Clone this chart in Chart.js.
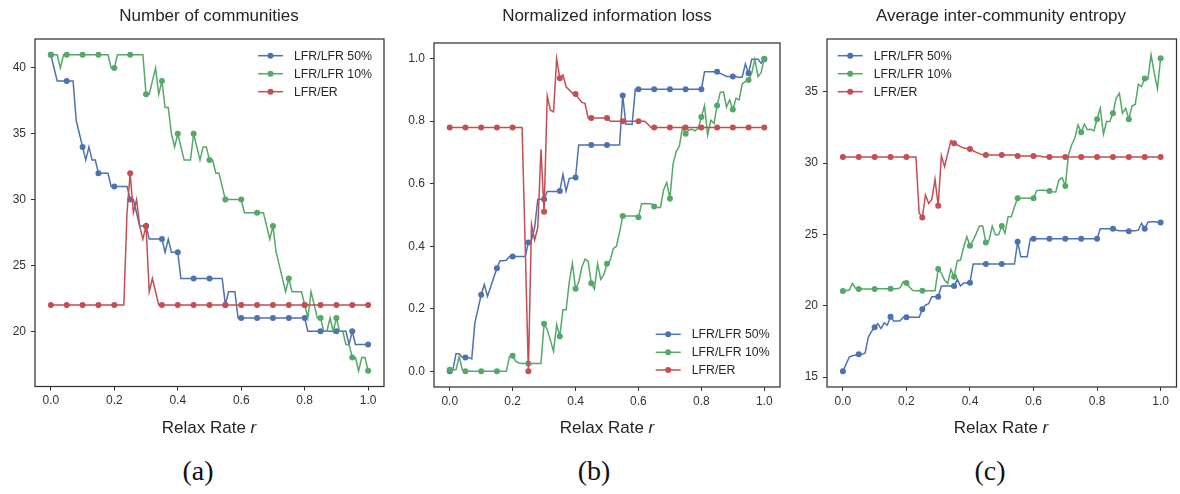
<!DOCTYPE html>
<html>
<head>
<meta charset="utf-8">
<script src="https://cdn.jsdelivr.net/npm/chart.js@4.4.0/dist/chart.umd.min.js"></script>
<style>
  body { margin: 0; background: #fff; width: 1180px; height: 494px; position: relative; overflow: hidden;
         font-family: "Liberation Sans", Arial, sans-serif; color: #262626; }
  canvas { position: absolute; top: 0; }
  .ttl { position: absolute; top: 6px; line-height: 20px; font-size: 17px; transform: translateX(-50%); white-space: nowrap; }
  .xl { position: absolute; top: 418px; line-height: 20px; font-size: 17px; transform: translateX(-50%); white-space: nowrap; }
  .cap { position: absolute; top: 454px; line-height: 34px; font-size: 28px; font-family: "Liberation Serif", serif;
         transform: translateX(-50%); white-space: nowrap; color: #111; }
</style>
</head>
<body>
<canvas id="chartA" width="392" height="445" style="left:0px"></canvas>
<canvas id="chartB" width="388" height="445" style="left:400px"></canvas>
<canvas id="chartC" width="390" height="445" style="left:790px"></canvas>

<div class="ttl" style="left:209px">Number of communities</div>
<div class="ttl" style="left:607px">Normalized information loss</div>
<div class="ttl" style="left:1001px">Average inter-community entropy</div>
<div class="xl" style="left:209px">Relax Rate <i>r</i></div>
<div class="xl" style="left:607px">Relax Rate <i>r</i></div>
<div class="xl" style="left:1001px">Relax Rate <i>r</i></div>
<div class="cap" style="left:198px">(a)</div>
<div class="cap" style="left:594px">(b)</div>
<div class="cap" style="left:990px">(c)</div>

<script>
// relax rate r, sampled every 0.01
const relaxRate = Array.from({ length: 101 }, (_, i) => i / 100);
const seriesNames = ['LFR/LFR 50%', 'LFR/LFR 10%', 'LFR/ER'];
const xTicks = [0, 0.2, 0.4, 0.6, 0.8, 1.0];

// (a) number of communities
const communities50 = [
  41, 40, 39, 39, 39, 39, 39, 39, 36, 35,
  34, 33, 34, 33, 33, 32, 32, 32, 32, 31,
  31, 31, 31, 31, 31, 30, 30, 29, 28, 28,
  28, 27, 27, 27, 27, 27, 26, 27, 26, 26,
  26, 24, 24, 24, 24, 24, 24, 24, 24, 24,
  24, 24, 24, 24, 24, 22, 23, 23, 23, 21,
  21, 21, 21, 21, 21, 21, 21, 21, 21, 21,
  21, 21, 21, 21, 21, 21, 21, 21, 21, 21,
  21, 20, 20, 20, 20, 20, 20, 20, 20, 20,
  20, 20, 20, 20, 19, 20, 19, 19, 19, 19,
  19];
const communities10 = [
  41, 41, 41, 40, 41, 41, 41, 41, 41, 41,
  41, 41, 41, 41, 41, 41, 41, 41, 41, 40,
  40, 41, 41, 41, 41, 41, 41, 41, 41, 41,
  38, 38, 39, 40, 38, 39, 37, 37, 35, 34,
  35, 34, 33, 33, 33, 35, 34, 33, 34, 34,
  33, 33, 32, 32, 31, 30, 30, 30, 30, 30,
  30, 29, 29, 29, 29, 29, 29, 29, 28, 27,
  28, 26, 25, 24, 23, 24, 23, 23, 23, 23,
  22, 21, 23, 22, 21, 21, 20, 20, 21, 20,
  21, 20, 20, 19, 19, 18, 18, 17, 18, 18,
  17];
const communitiesER = [
  22, 22, 22, 22, 22, 22, 22, 22, 22, 22,
  22, 22, 22, 22, 22, 22, 22, 22, 22, 22,
  22, 22, 22, 22, 29, 32, 29, 30, 28, 27,
  28, 23, 24, 23, 22, 22, 22, 22, 22, 22,
  22, 22, 22, 22, 22, 22, 22, 22, 22, 22,
  22, 22, 22, 22, 22, 22, 22, 22, 22, 22,
  22, 22, 22, 22, 22, 22, 22, 22, 22, 22,
  22, 22, 22, 22, 22, 22, 22, 22, 22, 22,
  22, 22, 22, 22, 22, 22, 22, 22, 22, 22,
  22, 22, 22, 22, 22, 22, 22, 22, 22, 22,
  22];
const communitiesTicks = [20, 25, 30, 35, 40];

// (b) normalized information loss
const infoLoss50 = [
  0.0, 0.005, 0.056, 0.056, 0.045, 0.044, 0.044, 0.04, 0.155, 0.2,
  0.245, 0.278, 0.24, 0.27, 0.3, 0.33, 0.354, 0.354, 0.355, 0.367,
  0.367, 0.367, 0.367, 0.367, 0.367, 0.412, 0.42, 0.46, 0.55, 0.55,
  0.55, 0.575, 0.575, 0.575, 0.575, 0.577, 0.63, 0.577, 0.617, 0.618,
  0.62, 0.724, 0.724, 0.724, 0.724, 0.724, 0.724, 0.724, 0.724, 0.724,
  0.724, 0.724, 0.724, 0.724, 0.724, 0.882, 0.79, 0.79, 0.79, 0.902,
  0.902, 0.902, 0.902, 0.902, 0.902, 0.902, 0.902, 0.902, 0.902, 0.902,
  0.902, 0.902, 0.902, 0.902, 0.902, 0.902, 0.902, 0.902, 0.902, 0.902,
  0.902, 0.958, 0.958, 0.958, 0.958, 0.958, 0.953, 0.948, 0.943, 0.943,
  0.943, 0.943, 0.94, 0.942, 0.983, 0.953, 0.998, 0.998, 0.998, 0.985,
  0.998];
const infoLoss10 = [
  0.005, 0.005, 0.005, 0.048, 0.005, 0.0, 0.0, 0.0, 0.0, 0.0,
  0.0, 0.0, 0.0, 0.0, 0.0, 0.0, 0.0, 0.0, 0.0, 0.048,
  0.05, 0.032, 0.027, 0.025, 0.025, 0.025, 0.025, 0.025, 0.025, 0.025,
  0.152, 0.133, 0.1, 0.064, 0.15, 0.112, 0.197, 0.197, 0.285, 0.346,
  0.264, 0.285, 0.333, 0.359, 0.352, 0.282, 0.263, 0.344, 0.294, 0.309,
  0.344, 0.355, 0.392, 0.4, 0.445, 0.497, 0.497, 0.497, 0.497, 0.497,
  0.493, 0.536, 0.537, 0.536, 0.536, 0.527, 0.524, 0.524, 0.58, 0.604,
  0.553, 0.663, 0.703, 0.72, 0.78, 0.76, 0.772, 0.774, 0.769, 0.777,
  0.813, 0.85, 0.756, 0.803, 0.793, 0.85, 0.892, 0.894, 0.846, 0.868,
  0.837, 0.873, 0.868, 0.919, 0.927, 0.932, 0.953, 0.998, 0.943, 0.955,
  1.0];
const infoLossER = [
  0.78, 0.78, 0.78, 0.78, 0.78, 0.78, 0.78, 0.78, 0.78, 0.78,
  0.78, 0.78, 0.78, 0.78, 0.78, 0.78, 0.78, 0.78, 0.78, 0.78,
  0.78, 0.78, 0.78, 0.78, 0.4, 0.0, 0.47, 0.42, 0.46, 0.71,
  0.51, 0.88, 0.835, 0.83, 1.0, 0.937, 0.948, 0.91, 0.9, 0.89,
  0.887, 0.873, 0.86, 0.857, 0.81, 0.81, 0.81, 0.81, 0.81, 0.81,
  0.81, 0.8, 0.8, 0.8, 0.8, 0.8, 0.8, 0.8, 0.8, 0.8,
  0.8, 0.8, 0.8, 0.79, 0.78, 0.78, 0.78, 0.78, 0.78, 0.78,
  0.78, 0.78, 0.78, 0.78, 0.78, 0.78, 0.78, 0.78, 0.78, 0.78,
  0.78, 0.78, 0.78, 0.78, 0.78, 0.78, 0.78, 0.78, 0.78, 0.78,
  0.78, 0.78, 0.78, 0.78, 0.78, 0.78, 0.78, 0.78, 0.78, 0.78,
  0.78];
const infoLossTicks = [0.0, 0.2, 0.4, 0.6, 0.8, 1.0];

// (c) average inter-community entropy
const entropy50 = [
  15.42, 15.9, 16.4, 16.5, 16.55, 16.6, 16.6, 16.7, 17.8, 18.2,
  18.5, 18.75, 18.4, 18.8, 18.65, 19.23, 18.93, 18.93, 18.95, 19.2,
  19.2, 19.2, 19.2, 19.2, 19.2, 19.75, 20.05, 20.15, 20.63, 20.63,
  20.63, 21.38, 21.38, 21.38, 21.38, 21.38, 21.85, 21.38, 21.6, 21.6,
  21.62, 22.92, 22.92, 22.92, 22.92, 22.92, 22.92, 22.92, 22.92, 22.92,
  22.92, 22.92, 22.92, 22.92, 22.92, 24.49, 23.44, 23.44, 23.44, 24.7,
  24.7, 24.7, 24.7, 24.7, 24.7, 24.7, 24.7, 24.7, 24.7, 24.7,
  24.7, 24.7, 24.7, 24.7, 24.7, 24.7, 24.7, 24.7, 24.7, 24.7,
  24.7, 25.4, 25.4, 25.4, 25.4, 25.4, 25.31, 25.26, 25.26, 25.26,
  25.22, 25.26, 25.26, 25.3, 25.78, 25.4, 25.86, 25.88, 25.88, 25.85,
  25.83];
const entropy10 = [
  21.03, 21.05, 21.1, 21.57, 21.22, 21.17, 21.17, 21.17, 21.17, 21.17,
  21.17, 21.19, 21.19, 21.19, 21.19, 21.19, 21.2, 21.2, 21.25, 21.68,
  21.6, 21.3, 21.07, 21.05, 21.05, 21.05, 21.05, 21.05, 21.05, 21.05,
  22.57, 22.27, 21.8, 21.57, 22.55, 22.03, 23.16, 23.2, 24.1, 24.84,
  24.2, 24.6, 25.07, 25.59, 25.59, 24.44, 24.6, 25.57, 24.98, 24.98,
  25.59, 25.08, 26.24, 26.24, 26.94, 27.53, 27.53, 27.53, 27.53, 27.53,
  27.53, 28.07, 28.1, 28.1, 28.07, 28.05, 27.98, 27.97, 28.81, 28.97,
  28.39, 30.57, 31.27, 31.74, 32.67, 32.16, 32.72, 32.33, 32.37, 32.25,
  33.07, 33.84, 32.02, 32.91, 32.91, 33.49, 34.54, 34.89, 33.49, 33.84,
  33.07, 34.0, 34.1, 35.51, 35.35, 35.92, 35.88, 37.58, 36.3, 35.2,
  37.35];
const entropyER = [
  30.43, 30.43, 30.43, 30.43, 30.43, 30.43, 30.43, 30.43, 30.43, 30.43,
  30.43, 30.43, 30.43, 30.43, 30.43, 30.43, 30.43, 30.43, 30.43, 30.43,
  30.43, 30.43, 30.43, 30.43, 26.5, 26.18, 27.76, 27.17, 27.45, 28.86,
  27.01, 30.52, 29.75, 30.68, 31.57, 31.38, 31.27, 31.15, 31.05, 31.02,
  30.98, 30.86, 30.75, 30.66, 30.58, 30.57, 30.57, 30.57, 30.57, 30.57,
  30.57, 30.57, 30.57, 30.57, 30.57, 30.5, 30.5, 30.5, 30.5, 30.5,
  30.5, 30.5, 30.5, 30.43, 30.43, 30.43, 30.43, 30.43, 30.43, 30.43,
  30.43, 30.43, 30.43, 30.43, 30.43, 30.43, 30.43, 30.43, 30.43, 30.43,
  30.43, 30.43, 30.43, 30.43, 30.43, 30.43, 30.43, 30.43, 30.43, 30.43,
  30.43, 30.43, 30.43, 30.43, 30.43, 30.43, 30.43, 30.43, 30.43, 30.43,
  30.43];
const entropyTicks = [15, 20, 25, 30, 35];

const colors = ['#4C72B0', '#55A868', '#C44E52'];
const FONT = '"Liberation Sans", Arial, sans-serif';

// frame round the plot area (all four spines)
const framePlugin = {
  id: 'frame',
  afterDraw(chart) {
    const a = chart.chartArea, c = chart.ctx;
    c.save();
    c.strokeStyle = '#333';
    c.lineWidth = 1.25;
    c.strokeRect(a.left, a.top, a.right - a.left, a.bottom - a.top);
    c.restore();
  }
};

// legend drawn inside the axes
const boxLegend = {
  id: 'boxLegend',
  afterDraw(chart, args, opts) {
    const c = chart.ctx;
    c.save();
    chart.data.datasets.forEach((ds, i) => {
      const y = opts.rows[i];
      c.strokeStyle = ds.borderColor;
      c.lineWidth = 1.5;
      c.beginPath();
      c.moveTo(opts.x0, y);
      c.lineTo(opts.x0 + 25, y);
      c.stroke();
      c.fillStyle = ds.borderColor;
      c.beginPath();
      c.arc(opts.x0 + 12.5, y, 3, 0, Math.PI * 2);
      c.fill();
      c.fillStyle = '#262626';
      c.font = '12.3px ' + FONT;
      c.textBaseline = 'middle';
      c.fillText(ds.label, opts.x0 + 36, y + 0.5);
    });
    c.restore();
  }
};

function makePanel(id, canvasLeft, canvasWidth, box, yMin, yMax, yTicks, yFmt, values, legend) {
  const datasets = values.map((vals, i) => ({
    label: seriesNames[i],
    data: relaxRate.map((r, j) => ({ x: r, y: vals[j] })),
    borderColor: colors[i],
    backgroundColor: colors[i],
    borderWidth: 1.5,
    tension: 0,
    pointRadius: ctx => (ctx.dataIndex % 5 === 0 ? 3 : 0),
    pointBorderWidth: 0,
    pointHoverRadius: 0,
    order: 2 - i
  }));
  const tickFont = { family: FONT, size: 12 };
  return new Chart(document.getElementById(id), {
    type: 'line',
    data: { datasets },
    options: {
      responsive: false,
      animation: false,
      events: [],
      devicePixelRatio: 1,
      layout: { padding: { left: 0, top: box.top, right: canvasWidth - (box.right - canvasLeft), bottom: 0 } },
      plugins: { legend: { display: false }, tooltip: { enabled: false }, boxLegend: legend },
      scales: {
        x: {
          type: 'linear', min: -0.05, max: 1.05,
          afterBuildTicks: s => { s.ticks = xTicks.map(v => ({ value: v })); },
          afterFit: s => { s.height = 445 - box.bottom; },
          ticks: { callback: v => v.toFixed(1), font: tickFont, color: '#333', padding: 3, maxRotation: 0, autoSkip: false },
          grid: { drawOnChartArea: false, drawTicks: true, tickLength: 4, tickColor: '#333' },
          border: { display: false }
        },
        y: {
          min: yMin, max: yMax,
          afterBuildTicks: s => { s.ticks = yTicks.map(v => ({ value: v })); },
          afterFit: s => { s.width = box.left - canvasLeft; },
          ticks: { callback: yFmt, font: tickFont, color: '#333', padding: 5, autoSkip: false },
          grid: { drawOnChartArea: false, drawTicks: true, tickLength: 4, tickColor: '#333' },
          border: { display: false }
        }
      }
    },
    plugins: [framePlugin, boxLegend]
  });
}

makePanel('chartA', 0, 392, { left: 35, right: 384, top: 39, bottom: 386.5 },
  15.8, 42.2, communitiesTicks, v => String(v),
  [communities50, communities10, communitiesER],
  { x0: 258, rows: [55.7, 73.7, 91.7] });

makePanel('chartB', 400, 388, { left: 434, right: 780, top: 43, bottom: 387 },
  -0.05, 1.05, infoLossTicks, v => v.toFixed(1),
  [infoLoss50, infoLoss10, infoLossER],
  { x0: 255.7, rows: [334.3, 352.3, 370] });

makePanel('chartC', 790, 390, { left: 827, right: 1176.5, top: 39, bottom: 387 },
  14.31, 38.69, entropyTicks, v => String(v),
  [entropy50, entropy10, entropyER],
  { x0: 47.7, rows: [55.7, 73.7, 91.7] });
</script>
</body>
</html>
